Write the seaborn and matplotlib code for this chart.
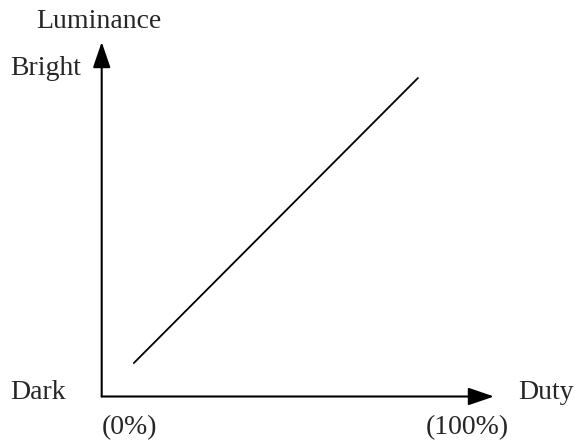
import matplotlib
matplotlib.use('Agg')
import seaborn as sns
import matplotlib.pyplot as plt

sns.set_style('white')
plt.rcParams['font.family'] = ['Liberation Serif', 'DejaVu Serif']

# Data (schematic: luminance rises linearly with duty)
duty = [10.1, 99.4]        # % duty
luminance = [10.5, 100.0]  # relative luminance
x_max = 123.3
y_max = 111.3

y_title = 'Luminance'
x_title = 'Duty'
y_low, y_high = 'Dark', 'Bright'
x_low, x_high = '(0%)', '(100%)'

W, H = 576, 446
fig = plt.figure(figsize=(W / 100, H / 100), dpi=100)
ax = fig.add_axes([101.7 / W, (H - 396.5) / H, 392.3 / W, 354.5 / H])

sns.lineplot(x=duty, y=luminance, color='black', linewidth=1.3, ax=ax)
ax.set_xlim(0, x_max)
ax.set_ylim(0, y_max)
ax.set_xticks([])
ax.set_yticks([])
for s in ax.spines.values():
    s.set_visible(False)

arrow = dict(arrowstyle='-|>,head_length=0.79,head_width=0.27', color='black',
             lw=1.5, mutation_scale=20, shrinkA=0, shrinkB=0)
ax.annotate('', xy=(1, 0), xytext=(0, 0), xycoords='axes fraction', arrowprops=arrow)
ax.annotate('', xy=(0, 1), xytext=(0, 0), xycoords='axes fraction', arrowprops=arrow)

fs = 20
def ftext(px, py, s):
    fig.text(px / W, 1 - py / H, s, ha='left', va='baseline', fontsize=fs)

ftext(36, 28, y_title)
ftext(10, 75, y_high)
ftext(10, 399, y_low)
ftext(518, 399, x_title)
ftext(102, 434, x_low)
ftext(426, 434, x_high)

fig.savefig('out.png', dpi=100)
